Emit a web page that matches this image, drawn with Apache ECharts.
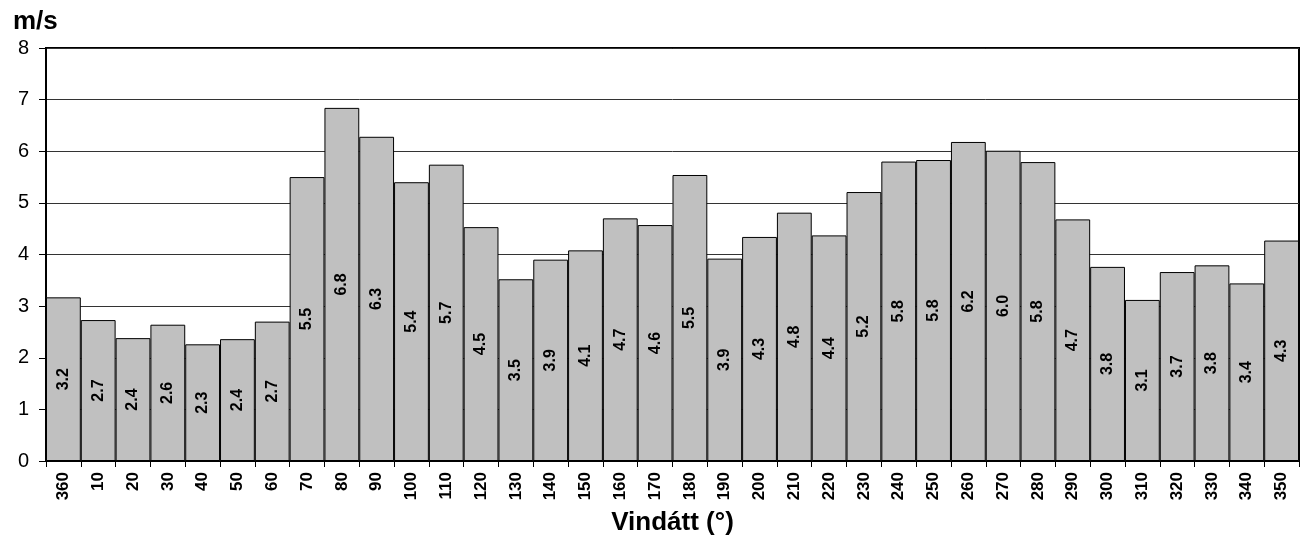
<!DOCTYPE html>
<html><head><meta charset="utf-8">
<script src="https://cdn.jsdelivr.net/npm/echarts@6/dist/echarts.min.js"></script>
<style>html,body{margin:0;padding:0;background:#fff}#c{width:1308px;height:543px}</style>
</head><body><div id="c"></div>
<script>
const categories = ['360','10','20','30','40','50','60','70','80','90','100','110','120','130','140','150','160','170','180','190','200','210','220','230','240','250','260','270','280','290','300','310','320','330','340','350'];
const speeds = [3.17,2.73,2.38,2.64,2.26,2.36,2.70,5.50,6.84,6.28,5.40,5.74,4.53,3.52,3.90,4.08,4.70,4.57,5.54,3.92,4.34,4.81,4.37,5.21,5.80,5.83,6.18,6.01,5.79,4.68,3.76,3.12,3.66,3.79,3.44,4.27];
const yTicks = [0,1,2,3,4,5,6,7,8];
const yUnit = 'm/s';
const xTitle = 'Vindátt (°)';

const chart = echarts.init(document.getElementById('c'), null, {renderer:'canvas'});
chart.setOption({
  animation:false,
  grid:{left:46,right:9,top:48,bottom:82,show:true,borderColor:'#000',borderWidth:2,backgroundColor:'transparent'},
  title:{text:yUnit,left:8,top:4,textStyle:{fontFamily:'Arial, Liberation Sans',fontWeight:'bold',fontSize:26,color:'#000'}},
  xAxis:{type:'category',data:categories,
    name:xTitle,nameLocation:'middle',nameGap:49,
    nameTextStyle:{fontFamily:'Arial, Liberation Sans',fontWeight:'bold',fontSize:26,color:'#000'},
    axisLine:{lineStyle:{color:'#000',width:2}},
    axisTick:{show:true,length:6,lineStyle:{color:'#000',width:1}},
    axisLabel:{rotate:90,margin:11,fontFamily:'Arial, Liberation Sans',fontWeight:'bold',fontSize:17,color:'#000'}},
  yAxis:{type:'value',min:yTicks[0],max:yTicks[yTicks.length-1],interval:1,
    axisLine:{show:true,lineStyle:{color:'#000',width:2}},
    axisTick:{show:true,length:7,lineStyle:{color:'#000',width:1}},
    axisLabel:{margin:17,fontFamily:'Arial, Liberation Sans',fontSize:20,color:'#000'},
    splitLine:{lineStyle:{color:'#333',width:1}}},
  series:[{type:'bar',data:speeds,barCategoryGap:'0%',
    itemStyle:{color:'#C0C0C0',borderColor:'#000',borderWidth:1},
    label:{show:true,position:'inside',rotate:90,fontFamily:'Arial, Liberation Sans',fontWeight:'bold',fontSize:16,color:'#000',
      formatter:p=>p.value.toFixed(1)}}]
});
</script></body></html>
